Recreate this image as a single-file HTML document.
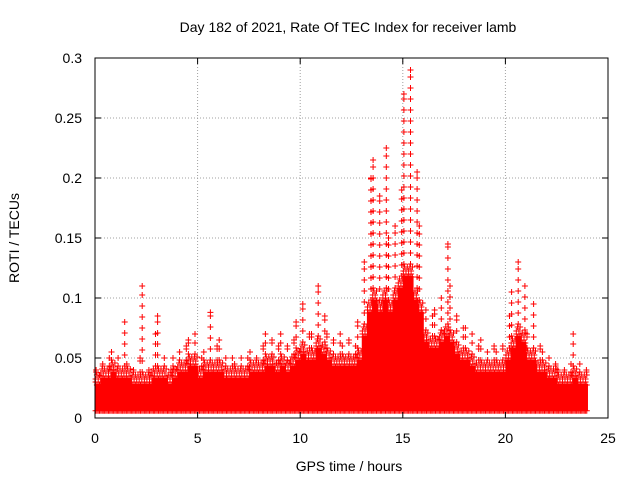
<!DOCTYPE html>
<html><head><meta charset="utf-8"><style>
body{margin:0;background:#fff}
svg text{font-family:"Liberation Sans",sans-serif;font-size:14px;fill:#000}
</style></head><body>
<svg width="640" height="480" xmlns="http://www.w3.org/2000/svg">
<text x="348" y="32" text-anchor="middle">Day 182 of 2021, Rate Of TEC Index for receiver lamb</text>
<g id="grid"></g>
<g id="marks"></g>
<rect x="95" y="58" width="513" height="360" fill="none" stroke="#000"/>
<g id="axes"></g>
<text x="349" y="471" text-anchor="middle">GPS time / hours</text>
<text transform="translate(19,238) rotate(-90)" text-anchor="middle">ROTI / TECUs</text>
</svg>
<script>
const xTicks=[0,5,10,15,20,25];
const yTicks=[0,0.05,0.1,0.15,0.2,0.25,0.3];
const yTickLabels=["0","0.05","0.1","0.15","0.2","0.25","0.3"];
const binHours=[0,0.25,0.5,0.75,1,1.25,1.5,1.75,2,2.25,2.5,2.75,3,3.25,3.5,3.75,4,4.25,4.5,4.75,5,5.25,5.5,5.75,6,6.25,6.5,6.75,7,7.25,7.5,7.75,8,8.25,8.5,8.75,9,9.25,9.5,9.75,10,10.25,10.5,10.75,11,11.25,11.5,11.75,12,12.25,12.5,12.75,13,13.25,13.5,13.75,14,14.25,14.5,14.75,15,15.25,15.5,15.75,16,16.25,16.5,16.75,17,17.25,17.5,17.75,18,18.25,18.5,18.75,19,19.25,19.5,19.75,20,20.25,20.5,20.75,21,21.25,21.5,21.75,22,22.25,22.5,22.75,23,23.25,23.5,23.75];
const rotiMax=[0.04,0.045,0.05,0.055,0.05,0.08,0.045,0.04,0.05,0.11,0.04,0.07,0.085,0.05,0.04,0.05,0.055,0.06,0.065,0.07,0.05,0.055,0.088,0.06,0.065,0.05,0.05,0.045,0.05,0.05,0.055,0.05,0.06,0.07,0.065,0.06,0.07,0.06,0.065,0.08,0.095,0.07,0.07,0.11,0.085,0.07,0.065,0.07,0.06,0.065,0.06,0.08,0.13,0.2,0.215,0.185,0.225,0.15,0.16,0.19,0.27,0.29,0.205,0.16,0.09,0.085,0.09,0.1,0.145,0.11,0.085,0.075,0.075,0.07,0.06,0.065,0.055,0.06,0.055,0.06,0.085,0.105,0.13,0.11,0.07,0.095,0.06,0.055,0.05,0.045,0.04,0.04,0.045,0.07,0.045,0.04];
const rotiDense=[0.03,0.035,0.035,0.04,0.035,0.035,0.035,0.03,0.03,0.03,0.03,0.035,0.035,0.035,0.03,0.035,0.04,0.04,0.045,0.045,0.035,0.04,0.04,0.04,0.04,0.035,0.035,0.035,0.035,0.035,0.04,0.04,0.04,0.045,0.045,0.04,0.045,0.04,0.045,0.05,0.055,0.05,0.05,0.06,0.055,0.05,0.045,0.045,0.045,0.045,0.045,0.05,0.07,0.09,0.1,0.09,0.1,0.09,0.1,0.11,0.12,0.12,0.1,0.09,0.065,0.06,0.06,0.065,0.07,0.065,0.055,0.05,0.05,0.045,0.04,0.04,0.04,0.04,0.04,0.04,0.05,0.06,0.07,0.065,0.05,0.05,0.04,0.04,0.035,0.035,0.03,0.03,0.03,0.035,0.03,0.03];
const rotiFloor=0.006;
const NS="http://www.w3.org/2000/svg";
const X=t=>95+t*(513/25), Y=v=>418-v*1200;
const grid=document.getElementById('grid'), axes=document.getElementById('axes'), marks=document.getElementById('marks');
function mk(tag,attrs,parent){const e=document.createElementNS(NS,tag);for(const k in attrs)e.setAttribute(k,attrs[k]);parent.appendChild(e);return e;}
xTicks.forEach(t=>{
  if(t>0&&t<25){const g=mk('line',{x1:X(t),x2:X(t),y1:58,y2:418,stroke:'#a0a0a0','stroke-dasharray':'1,2'},grid);
  
  }
  const tk=mk('path',{d:`M${X(t)},418v-6M${X(t)},58v6`,stroke:'#000'},axes);
  
  
  const l=mk('text',{x:X(t),y:443,'text-anchor':'middle'},axes);l.textContent=t;
  
  
});
yTicks.forEach((v,i)=>{
  if(v>0&&v<0.3){const g=mk('line',{x1:95,x2:608,y1:Y(v),y2:Y(v),stroke:'#a0a0a0','stroke-dasharray':'1,2'},grid);
  
  }
  const tk=mk('path',{d:`M95,${Y(v)}h6M608,${Y(v)}h-6`,stroke:'#000'},axes);
  
  
  const l=mk('text',{x:82,y:Y(v)+5,'text-anchor':'end'},axes);l.textContent=yTickLabels[i];
  
  
});
let d='';
const plus=(x,y)=>{d+=`M${(x-3).toFixed(1)},${y.toFixed(1)}h6M${x.toFixed(1)},${(y-3).toFixed(1)}v6`;};
binHours.forEach((t,i)=>{
  const x0=X(t), w=513/25*0.25;
  const yd=Y(rotiDense[i]), yf=Y(rotiFloor), ym=Y(rotiMax[i]);
  const r=mk('rect',{x:x0,y:yd+2,width:w+0.5,height:yf-yd-2,fill:'#ff0000'},marks);
  
  
  for(let k=0;k<4;k++){
    const x=x0+w*(k+0.5)/4;
    plus(x,yd+(k%2)*3);
    plus(x,yd-3-(k%2)*4);
    plus(x,yf);
  }
  const xc=x0+w/2+((i%3)-1)*1.5;
  for(let y=yd-10;y>ym;y-=11) plus(xc,y);
  plus(xc,ym);
});
const p=mk('path',{d:d,stroke:'#ff0000','stroke-width':1,fill:'none'},marks);


</script>
</body></html>
